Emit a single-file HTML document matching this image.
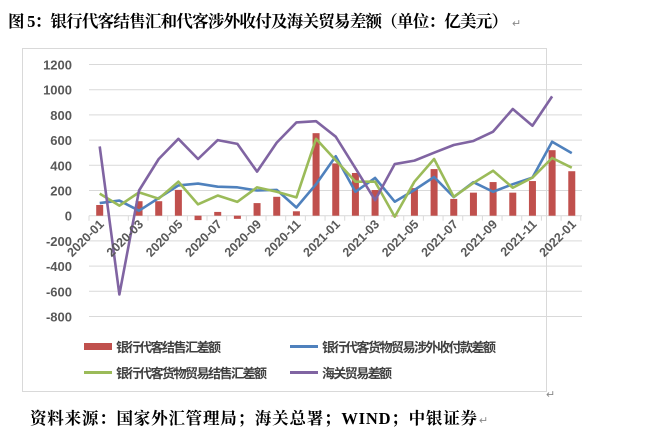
<!DOCTYPE html>
<html><head><meta charset="utf-8"><style>
body{margin:0;background:#fff;}
svg{display:block;}
</style></head><body>
<svg width="646" height="442" xmlns="http://www.w3.org/2000/svg">
<rect width="646" height="442" fill="#fff"/>
<text x="8" y="27" font-family="Liberation Serif, Noto Serif CJK SC, serif" font-size="16.5" font-weight="bold" fill="#000" textLength="500">图 5：银行代客结售汇和代客涉外收付及海关贸易差额（单位：亿美元）</text>
<text x="512" y="27" font-family="Liberation Sans, sans-serif" font-size="11" fill="#888">↵</text>
<rect x="22.5" y="48.5" width="524" height="343" fill="none" stroke="#d9d9d9"/>
<g id="chart"></g>
<g font-family="Liberation Sans, Noto Sans CJK SC, sans-serif" font-size="13" font-weight="bold" fill="#404040">
<rect x="84" y="343" width="28" height="7" fill="#c0504d"/>
<text x="116" y="352" textLength="105">银行代客结售汇差额</text>
<rect x="290" y="345" width="28" height="3" fill="#4f81bd"/>
<text x="322" y="352" textLength="174">银行代客货物贸易涉外收付款差额</text>
<rect x="84" y="371" width="28" height="3" fill="#9bbb59"/>
<text x="116" y="378" textLength="151">银行代客货物贸易结售汇差额</text>
<rect x="290" y="371" width="28" height="3" fill="#8064a2"/>
<text x="322" y="378" textLength="70">海关贸易差额</text>
</g>
<text x="546" y="398" font-family="Liberation Sans, sans-serif" font-size="11" fill="#888">↵</text>
<text x="30" y="424" font-family="Liberation Serif, Noto Serif CJK SC, serif" font-size="16.5" font-weight="bold" fill="#000" textLength="447">资料来源：国家外汇管理局；海关总署；WIND；中银证券</text>
<text x="479" y="424" font-family="Liberation Sans, sans-serif" font-size="11" fill="#888">↵</text>
</svg>
<script>
(function(){
var ns="http://www.w3.org/2000/svg",g=document.getElementById("chart");
function el(t,a,txt){var e=document.createElementNS(ns,t);for(var k in a)e.setAttribute(k,a[k]);if(txt!=null)e.textContent=txt;g.appendChild(e);return e;}
var y0=215.7,sc=25.2/200;function Y(v){return y0-v*sc;}
var x0=99.7,dx=19.67;function X(i){return x0+i*dx;}
for(var v=-800;v<=1200;v+=200){var y=Y(v);
 if(v!=0)el("line",{x1:89,x2:582,y1:y,y2:y,stroke:"#d9d9d9","stroke-width":1});
 el("text",{x:72,y:y+5,"text-anchor":"end","font-family":"Liberation Sans, sans-serif","font-size":"13","font-weight":"bold",fill:"#595959"},String(v));}
el("line",{x1:89,x2:582,y1:y0,y2:y0,stroke:"#d9d9d9","stroke-width":1});
for(var i=0;i<=25;i++){var x=89+i*dx;el("line",{x1:x,x2:x,y1:y0,y2:y0+5,stroke:"#d9d9d9"});}
var bars=[85,0,115,115,205,-35,30,-25,100,150,35,655,415,339,204,-5,219,370,133,183,267,183,275,520,353];
bars.forEach(function(v,i){if(!v)return;var a=Y(Math.max(v,0)),b=Y(Math.min(v,0));el("rect",{x:X(i)-3.5,y:a,width:7,height:b-a,fill:"#c0504d"});});
function line(d,c){el("polyline",{points:d.map(function(v,i){return X(i)+","+Y(v)}).join(" "),fill:"none",stroke:c,"stroke-width":2.6,"stroke-linejoin":"round"});}
line([100,120,40,140,240,255,230,225,200,205,65,250,472,190,300,111,204,307,148,266,190,250,302,587,497],"#4f81bd");
line([175,80,185,135,270,90,160,110,225,190,145,610,440,270,270,-8,270,450,150,260,357,222,302,458,381],"#9bbb59");
line([550,-625,200,450,610,450,600,570,350,580,740,750,627,377,123,410,437,500,561,593,667,847,714,947],"#8064a2");
var labs=["2020-01","2020-03","2020-05","2020-07","2020-09","2020-11","2021-01","2021-03","2021-05","2021-07","2021-09","2021-11","2022-01"];
labs.forEach(function(s,k){var x=X(k*2)+5,y=225;el("text",{x:x,y:y,"text-anchor":"end",transform:"rotate(-45 "+x+" "+y+")","font-family":"Liberation Sans, sans-serif","font-size":"12.5","font-weight":"bold",fill:"#595959"},s);});
})();
</script>
</body></html>
